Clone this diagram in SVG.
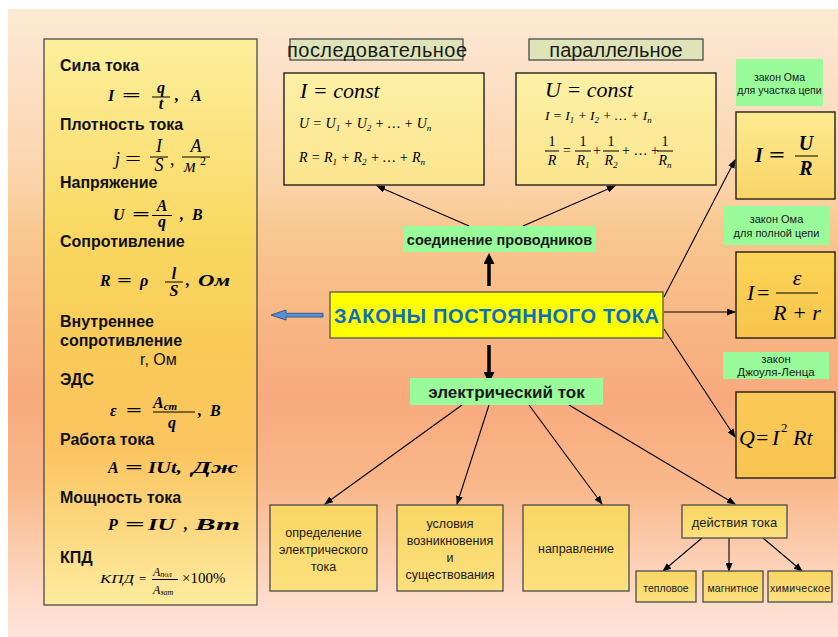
<svg xmlns="http://www.w3.org/2000/svg" width="838" height="637" viewBox="0 0 838 637">
<defs>
<linearGradient id="bg" x1="0" y1="0" x2="0" y2="1">
<stop offset="0" stop-color="#fbead0"/>
<stop offset="0.06" stop-color="#fce4cf"/>
<stop offset="0.29" stop-color="#fbd2a6"/>
<stop offset="0.35" stop-color="#f9c890"/>
<stop offset="0.5" stop-color="#f8b684"/>
<stop offset="0.62" stop-color="#f8aa7e"/>
<stop offset="0.76" stop-color="#f9b88a"/>
<stop offset="0.93" stop-color="#fddac8"/>
<stop offset="1" stop-color="#fde4d8"/>
</linearGradient>
<linearGradient id="gLeft" x1="0" y1="0" x2="0" y2="1">
<stop offset="0" stop-color="#fdef9c"/>
<stop offset="0.35" stop-color="#f9d862"/>
<stop offset="0.55" stop-color="#f9ca58"/>
<stop offset="0.72" stop-color="#fbc460"/>
<stop offset="1" stop-color="#fdeb9e"/>
</linearGradient>
<linearGradient id="gTop" x1="0" y1="0" x2="0" y2="1">
<stop offset="0" stop-color="#fdf0a6"/>
<stop offset="1" stop-color="#fbe48e"/>
</linearGradient>
<linearGradient id="gR1" x1="0" y1="0" x2="0" y2="1">
<stop offset="0" stop-color="#fdeb92"/>
<stop offset="1" stop-color="#f9d466"/>
</linearGradient>
<linearGradient id="gR2" x1="0" y1="0" x2="0" y2="1">
<stop offset="0" stop-color="#fbd458"/>
<stop offset="1" stop-color="#f7c44c"/>
</linearGradient>
<linearGradient id="gR3" x1="0" y1="0" x2="0" y2="1">
<stop offset="0" stop-color="#f9c955"/>
<stop offset="1" stop-color="#f8c452"/>
</linearGradient>
<linearGradient id="gBot" x1="0" y1="0" x2="0" y2="1">
<stop offset="0" stop-color="#f9d664"/>
<stop offset="1" stop-color="#fbe07e"/>
</linearGradient>
<marker id="ah" markerWidth="9" markerHeight="7" refX="8" refY="3.5" orient="auto" markerUnits="userSpaceOnUse">
<path d="M0,0 L9,3.5 L0,7 z" fill="#000"/>
</marker>
<marker id="ahB" markerWidth="11" markerHeight="11" refX="3" refY="5.5" orient="auto" markerUnits="userSpaceOnUse">
<path d="M0,0 L11,5.5 L0,11 z" fill="#000"/>
</marker>
<style>
.hd{font-family:"Liberation Sans",Arial,sans-serif;font-weight:bold;font-size:16px;fill:#111}
.rg{font-family:"Liberation Sans",Arial,sans-serif;font-size:16px;fill:#111}
.tx{font-family:"Liberation Sans",Arial,sans-serif;fill:#1a1a1a;text-anchor:middle}
.ttl{font-family:"Liberation Sans",Arial,sans-serif;font-weight:bold;font-size:20px;fill:#0a6ec4;text-anchor:middle}
.m{font-family:"Liberation Serif","Times New Roman",serif;font-style:italic;fill:#000}
.b{font-weight:bold}
.n{font-style:normal}
.c{text-anchor:middle}
.bx{stroke:#4a4a4a;stroke-width:1.3}
.bk{stroke:#111;stroke-width:1.3}
.gl{fill:#99fb99}
.bar{stroke:#000;stroke-width:1}
.thin{stroke:#000;stroke-width:1.1;fill:none;marker-end:url(#ah)}
.thick{stroke:#000;stroke-width:3.5;fill:none;marker-end:url(#ahB)}
.sb{font-size:0.65em}
</style>
</defs>
<rect x="0" y="0" width="838" height="637" fill="#ffffff"/>
<rect x="8" y="9" width="830" height="628" fill="url(#bg)"/>

<g id="connectors">
<line class="thin" x1="664" y1="297" x2="735" y2="160"/>
<line class="thin" x1="664" y1="312" x2="735" y2="312"/>
<line class="thin" x1="664" y1="329" x2="735" y2="437"/>
<line class="thin" x1="469" y1="226" x2="377" y2="186"/>
<line class="thin" x1="523" y1="226" x2="615" y2="186"/>
<line class="thin" x1="462" y1="405" x2="325" y2="504"/>
<line class="thin" x1="489" y1="405" x2="457" y2="504"/>
<line class="thin" x1="529" y1="405" x2="602" y2="504"/>
<line class="thin" x1="569" y1="405" x2="735" y2="504"/>
<line class="thin" x1="702" y1="538" x2="663" y2="571"/>
<line class="thin" x1="729" y1="538" x2="729" y2="571"/>
<line class="thin" x1="763" y1="538" x2="802" y2="571"/>
<line class="thick" x1="489" y1="286" x2="489" y2="261"/>
<line class="thick" x1="489" y1="345" x2="489" y2="375"/>
<polygon points="271,315 286,310 286,313.3 323,313.3 323,317 286,317 286,320" fill="#5b8fd4" stroke="#33598c" stroke-width="1"/>
</g>

<g id="formulas-panel">
<rect x="44" y="39" width="213" height="566" fill="url(#gLeft)" class="bx"/>
<text class="hd" x="60" y="71">Сила тока</text>
<text class="m b" font-size="16" x="108" y="101">I</text>
<text class="m b n" font-size="16" x="122" y="101" textLength="19" lengthAdjust="spacingAndGlyphs">=</text>
<text class="m b c" font-size="16" x="161" y="93">q</text>
<line class="bar" x1="152" y1="97" x2="170" y2="97"/>
<text class="m b c" font-size="16" x="161" y="109">t</text>
<text class="m b" font-size="16" x="175" y="101">,</text>
<text class="m b" font-size="16" x="191" y="101">А</text>

<text class="hd" x="60" y="130">Плотность тока</text>
<text class="m" font-size="18" x="115" y="165">j</text>
<text class="m n" font-size="18" x="125" y="165" textLength="16" lengthAdjust="spacingAndGlyphs">=</text>
<text class="m c" font-size="18" x="159" y="152">I</text>
<line class="bar" x1="150" y1="157" x2="168" y2="157"/>
<text class="m c" font-size="18" x="159" y="171">S</text>
<text class="m" font-size="18" x="170" y="165">,</text>
<text class="m c" font-size="18" x="196" y="152">А</text>
<line class="bar" x1="182" y1="157" x2="210" y2="157"/>
<text class="m" font-size="18" x="184" y="172">м</text>
<text class="m n" font-size="12" x="200" y="165">2</text>

<text class="hd" x="60" y="188">Напряжение</text>
<text class="m b" font-size="16" x="113" y="220">U</text>
<text class="m b n" font-size="16" x="132" y="220" textLength="18" lengthAdjust="spacingAndGlyphs">=</text>
<text class="m b c" font-size="16" x="162" y="211">А</text>
<line class="bar" x1="152" y1="215.5" x2="172" y2="215.5"/>
<text class="m b c" font-size="16" x="162" y="227">q</text>
<text class="m b" font-size="16" x="180" y="220">,</text>
<text class="m b" font-size="16" x="192" y="220">В</text>

<text class="hd" x="60" y="247">Сопротивление</text>
<text class="m b" font-size="16" x="100" y="286">R</text>
<text class="m b n" font-size="16" x="117" y="286" textLength="15" lengthAdjust="spacingAndGlyphs">=</text>
<text class="m b" font-size="16" x="140" y="286">ρ</text>
<text class="m b c" font-size="16" x="174" y="279">l</text>
<line class="bar" x1="165" y1="282" x2="183" y2="282"/>
<text class="m b c" font-size="16" x="174" y="296">S</text>
<text class="m b" font-size="16" x="186" y="286">,</text>
<text class="m b" font-size="16" x="198" y="286" textLength="32" lengthAdjust="spacingAndGlyphs">Ом</text>

<text class="hd" x="60" y="327">Внутреннее</text>
<text class="hd" x="60" y="346">сопротивление</text>
<text class="rg" x="140" y="365">r, Ом</text>
<text class="hd" x="60" y="385">ЭДС</text>
<text class="m b" font-size="16" x="110" y="416">ε</text>
<text class="m b n" font-size="16" x="126" y="416" textLength="16" lengthAdjust="spacingAndGlyphs">=</text>
<text class="m b" font-size="16" x="153" y="408">А<tspan font-size="11" dy="2">ст</tspan></text>
<line class="bar" x1="153" y1="412" x2="195" y2="412"/>
<text class="m b c" font-size="16" x="172" y="428">q</text>
<text class="m b" font-size="16" x="198" y="416">,</text>
<text class="m b" font-size="16" x="210" y="416">В</text>

<text class="hd" x="60" y="445">Работа тока</text>
<text class="m b" font-size="16" x="108" y="473">А</text>
<text class="m b n" font-size="16" x="125" y="473" textLength="18" lengthAdjust="spacingAndGlyphs">=</text>
<text class="m b" font-size="16" x="148" y="473" textLength="34" lengthAdjust="spacingAndGlyphs">IUt,</text>
<text class="m b" font-size="16" x="192" y="473" textLength="46" lengthAdjust="spacingAndGlyphs">Дж</text>

<text class="hd" x="60" y="503">Мощность тока</text>
<text class="m b" font-size="16" x="108" y="530">P</text>
<text class="m b n" font-size="16" x="125" y="530" textLength="20" lengthAdjust="spacingAndGlyphs">=</text>
<text class="m b" font-size="16" x="148" y="530" textLength="27" lengthAdjust="spacingAndGlyphs">IU</text>
<text class="m b" font-size="16" x="184" y="530">,</text>
<text class="m b" font-size="16" x="195" y="530" textLength="45" lengthAdjust="spacingAndGlyphs">Вт</text>

<text class="hd" x="60" y="563">КПД</text>
<text class="m" font-size="13" x="100" y="583" textLength="34" lengthAdjust="spacingAndGlyphs">КПД</text>
<text class="m n" font-size="13" x="139" y="583">=</text>
<text class="m" font-size="12" x="153" y="576">А<tspan font-size="8" dy="1">пол</tspan></text>
<line class="bar" x1="152" y1="579.5" x2="178" y2="579.5"/>
<text class="m" font-size="12" x="153" y="594">А<tspan font-size="8" dy="1">зат</tspan></text>
<text class="m n" font-size="15" x="182" y="583">×100%</text>
</g>

<g id="seq-label">
<rect x="290" y="39" width="173" height="21" fill="#dfe4b8" class="bx"/>
<text class="tx" x="377" y="57" font-size="20" textLength="180">последовательное</text>
</g>
<g id="par-label">
<rect x="529" y="39" width="174" height="21" fill="#dfe4b8" class="bx"/>
<text class="tx" x="616" y="57" font-size="20">параллельное</text>
</g>

<g id="seq-box">
<rect x="284" y="73" width="200" height="112" fill="url(#gTop)" class="bk"/>
<text class="m" font-size="22" x="300" y="98">I = const</text>
<text class="m" font-size="14" x="299" y="128">U = U<tspan class="sb" dy="3">1</tspan><tspan dy="-3"> + U</tspan><tspan class="sb" dy="3">2</tspan><tspan dy="-3"> + … + U</tspan><tspan class="sb" dy="3">n</tspan></text>
<text class="m" font-size="14" x="299" y="162">R = R<tspan class="sb" dy="3">1</tspan><tspan dy="-3"> + R</tspan><tspan class="sb" dy="3">2</tspan><tspan dy="-3"> + … + R</tspan><tspan class="sb" dy="3">n</tspan></text>
</g>

<g id="par-box">
<rect x="516" y="73" width="200" height="112" fill="url(#gTop)" class="bk"/>
<text class="m" font-size="22" x="545" y="97">U = const</text>
<text class="m" font-size="13.5" x="545" y="120">I = I<tspan class="sb" dy="3">1</tspan><tspan dy="-3"> + I</tspan><tspan class="sb" dy="3">2</tspan><tspan dy="-3"> + … + I</tspan><tspan class="sb" dy="3">n</tspan></text>
<text class="m n c" font-size="14" x="552" y="146">1</text>
<line class="bar" x1="545" y1="151" x2="559" y2="151"/>
<text class="m c" font-size="14" x="552" y="165">R</text>
<text class="m n" font-size="14" x="563" y="155">=</text>
<text class="m n c" font-size="14" x="583" y="146">1</text>
<line class="bar" x1="575" y1="151" x2="591" y2="151"/>
<text class="m c" font-size="14" x="583" y="165">R<tspan class="sb" dy="3">1</tspan></text>
<text class="m n" font-size="14" x="593" y="155">+</text>
<text class="m n c" font-size="14" x="611" y="146">1</text>
<line class="bar" x1="603" y1="151" x2="619" y2="151"/>
<text class="m c" font-size="14" x="611" y="165">R<tspan class="sb" dy="3">2</tspan></text>
<text class="m n" font-size="14" x="622" y="155">+ … +</text>
<text class="m n c" font-size="14" x="665" y="146">1</text>
<line class="bar" x1="657" y1="151" x2="673" y2="151"/>
<text class="m c" font-size="14" x="665" y="165">R<tspan class="sb" dy="3">n</tspan></text>
</g>

<g id="ohm-part-label">
<rect x="736" y="59" width="87" height="47" class="gl"/>
<text class="tx" font-size="10.5" x="779.5" y="81">закон Ома</text>
<text class="tx" font-size="10.5" x="779.5" y="94">для участка цепи</text>
</g>
<g id="ohm-part">
<rect x="736" y="112" width="99" height="87" fill="url(#gR1)" class="bk"/>
<text class="m b" font-size="20" x="755" y="162">I</text>
<text class="m b n" font-size="20" x="769" y="162" textLength="16" lengthAdjust="spacingAndGlyphs">=</text>
<text class="m b c" font-size="20" x="806" y="150">U</text>
<line class="bar" x1="795" y1="156" x2="818" y2="156"/>
<text class="m b c" font-size="20" x="806" y="175">R</text>
</g>

<g id="ohm-full-label">
<rect x="724" y="206" width="105" height="39" class="gl"/>
<text class="tx" font-size="11" x="776.5" y="223">закон Ома</text>
<text class="tx" font-size="11" x="776.5" y="237">для полной цепи</text>
</g>
<g id="ohm-full">
<rect x="736" y="252" width="99" height="86" fill="url(#gR2)" class="bk"/>
<text class="m" font-size="22" x="747" y="300">I</text>
<text class="m n" font-size="22" x="757" y="300">=</text>
<text class="m c" font-size="22" x="797" y="285">ε</text>
<line class="bar" x1="776" y1="293" x2="818" y2="293"/>
<text class="m c" font-size="22" x="797" y="320">R + r</text>
</g>

<g id="joule-label">
<rect x="723" y="352" width="106" height="27" class="gl"/>
<text class="tx" font-size="11.5" x="776" y="363">закон</text>
<text class="tx" font-size="11.5" x="776" y="376">Джоуля-Ленца</text>
</g>
<g id="joule">
<rect x="736" y="392" width="99" height="86" fill="url(#gR3)" class="bk"/>
<text class="m" font-size="22" x="739" y="445">Q</text>
<text class="m n" font-size="22" x="756" y="445">=</text>
<text class="m" font-size="22" x="772" y="445">I</text>
<text class="m n" font-size="13" x="781" y="432">2</text>
<text class="m" font-size="22" x="793" y="445">Rt</text>
</g>

<g id="main">
<rect x="330" y="292" width="333" height="46" fill="#ffff00" stroke="#555" stroke-width="1.3"/>
<text class="ttl" x="496.5" y="323" textLength="325">ЗАКОНЫ ПОСТОЯННОГО ТОКА</text>
</g>

<g id="connection">
<rect x="403" y="226" width="193" height="26" class="gl"/>
<text class="tx" x="499.5" y="245" font-size="14.5" font-weight="bold">соединение проводников</text>
</g>
<g id="current">
<rect x="410" y="378" width="193" height="27" class="gl"/>
<text class="tx" x="506.5" y="398" font-size="17" font-weight="bold">электрический ток</text>
</g>

<g id="definition">
<rect x="270" y="505" width="107" height="86" fill="url(#gBot)" class="bx"/>
<text class="tx" font-size="12.5" x="323.5" y="537">определение</text>
<text class="tx" font-size="12.5" x="323.5" y="554">электрического</text>
<text class="tx" font-size="12.5" x="323.5" y="571">тока</text>
</g>
<g id="conditions">
<rect x="397" y="505" width="106" height="86" fill="url(#gBot)" class="bx"/>
<text class="tx" font-size="12.5" x="450" y="528">условия</text>
<text class="tx" font-size="12.5" x="450" y="545">возникновения</text>
<text class="tx" font-size="12.5" x="450" y="562">и</text>
<text class="tx" font-size="12.5" x="450" y="579">существования</text>
</g>
<g id="direction">
<rect x="523" y="505" width="106" height="86" fill="url(#gBot)" class="bx"/>
<text class="tx" font-size="12.5" x="576" y="553">направление</text>
</g>
<g id="actions">
<rect x="682" y="505" width="105" height="33" fill="url(#gBot)" class="bx"/>
<text class="tx" font-size="13" x="734.5" y="527">действия тока</text>
</g>
<g id="thermal">
<rect x="636" y="571" width="60" height="31" fill="url(#gBot)" class="bx"/>
<text class="tx" font-size="10.5" x="666" y="592">тепловое</text>
</g>
<g id="magnetic">
<rect x="703" y="571" width="60" height="31" fill="url(#gBot)" class="bx"/>
<text class="tx" font-size="10.5" x="733" y="592">магнитное</text>
</g>
<g id="chemical">
<rect x="768" y="571" width="64" height="31" fill="url(#gBot)" class="bx"/>
<text class="tx" font-size="10.5" x="800" y="592" textLength="60">химическое</text>
</g>
</svg>
